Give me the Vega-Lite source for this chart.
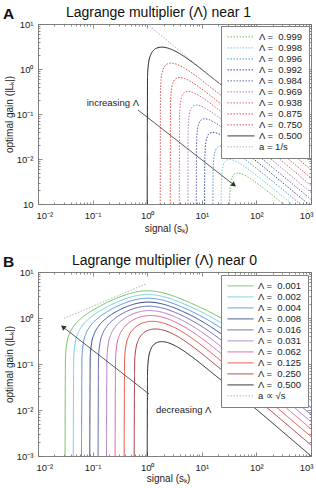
{
  "$schema": "https://vega.github.io/schema/vega-lite/v6.json",
  "background": "white",
  "padding": {"left": 2, "top": 4, "right": 2, "bottom": 2},
  "config": {
    "font": "Liberation Sans",
    "view": {"stroke": "#808080", "strokeWidth": 1},
    "axis": {
      "domain": false, "grid": false, "tickColor": "#707070", "tickWidth": 0.8,
      "labelFont": "Liberation Sans", "labelFontSize": 9.5, "labelColor": "#222222",
      "titleFont": "Liberation Sans", "titleFontSize": 10, "titleFontWeight": "normal", "titleColor": "#222222",
      "labelFlush": false, "labelOverlap": false
    },
    "legend": {
      "title": null, "symbolType": "stroke", "symbolStrokeWidth": 1, "clipHeight": 9.8, "rowPadding": 0,
      "labelFontSize": 9.5, "labelFont": "Liberation Sans", "labelOffset": 4, "padding": 6,
      "strokeColor": "#808080", "fillColor": "#ffffff", "labelColor": "#222222", "labelLimit": 300
    }
  },
  "datasets": {
    "curvesA": [
      {"lab": "Λ = \u00a00.999", "s": 32.16, "g": 0.001}, {"lab": "Λ = \u00a00.999", "s": 32.82, "g": 0.002129}, {"lab": "Λ = \u00a00.999", "s": 33.72, "g": 0.002931}, {"lab": "Λ = \u00a00.999", "s": 35.77, "g": 0.003908}, {"lab": "Λ = \u00a00.999", "s": 38.8, "g": 0.004557}, {"lab": "Λ = \u00a00.999", "s": 45.25, "g": 0.004884}, {"lab": "Λ = \u00a00.999", "s": 53.34, "g": 0.004688}, {"lab": "Λ = \u00a00.999", "s": 71.57, "g": 0.003907}, {"lab": "Λ = \u00a00.999", "s": 106.7, "g": 0.002795}, {"lab": "Λ = \u00a00.999", "s": 184.8, "g": 0.001666}, {"lab": "Λ = \u00a00.999", "s": 1000, "g": 0.0003125},
      {"lab": "Λ = \u00a00.998", "s": 22.61, "g": 0.001}, {"lab": "Λ = \u00a00.998", "s": 22.72, "g": 0.001945}, {"lab": "Λ = \u00a00.998", "s": 23.19, "g": 0.004261}, {"lab": "Λ = \u00a00.998", "s": 23.83, "g": 0.005865}, {"lab": "Λ = \u00a00.998", "s": 25.28, "g": 0.007819}, {"lab": "Λ = \u00a00.998", "s": 27.43, "g": 0.009117}, {"lab": "Λ = \u00a00.998", "s": 31.99, "g": 0.00977}, {"lab": "Λ = \u00a00.998", "s": 37.72, "g": 0.009378}, {"lab": "Λ = \u00a00.998", "s": 50.63, "g": 0.007814}, {"lab": "Λ = \u00a00.998", "s": 75.49, "g": 0.00559}, {"lab": "Λ = \u00a00.998", "s": 130.8, "g": 0.003332}, {"lab": "Λ = \u00a00.998", "s": 1000, "g": 0.0004423},
      {"lab": "Λ = \u00a00.996", "s": 15.97, "g": 0.001}, {"lab": "Λ = \u00a00.996", "s": 16.05, "g": 0.003894}, {"lab": "Λ = \u00a00.996", "s": 16.39, "g": 0.008529}, {"lab": "Λ = \u00a00.996", "s": 16.84, "g": 0.01174}, {"lab": "Λ = \u00a00.996", "s": 17.87, "g": 0.01565}, {"lab": "Λ = \u00a00.996", "s": 19.39, "g": 0.01825}, {"lab": "Λ = \u00a00.996", "s": 22.62, "g": 0.01955}, {"lab": "Λ = \u00a00.996", "s": 26.68, "g": 0.01876}, {"lab": "Λ = \u00a00.996", "s": 35.82, "g": 0.01563}, {"lab": "Λ = \u00a00.996", "s": 53.42, "g": 0.01118}, {"lab": "Λ = \u00a00.996", "s": 92.55, "g": 0.006664}, {"lab": "Λ = \u00a00.996", "s": 1000, "g": 0.0006261},
      {"lab": "Λ = \u00a00.992", "s": 11.27, "g": 0.001}, {"lab": "Λ = \u00a00.992", "s": 11.33, "g": 0.007804}, {"lab": "Λ = \u00a00.992", "s": 11.57, "g": 0.01709}, {"lab": "Λ = \u00a00.992", "s": 11.89, "g": 0.02352}, {"lab": "Λ = \u00a00.992", "s": 12.62, "g": 0.03135}, {"lab": "Λ = \u00a00.992", "s": 13.7, "g": 0.03654}, {"lab": "Λ = \u00a00.992", "s": 15.98, "g": 0.03914}, {"lab": "Λ = \u00a00.992", "s": 18.88, "g": 0.03755}, {"lab": "Λ = \u00a00.992", "s": 25.36, "g": 0.03127}, {"lab": "Λ = \u00a00.992", "s": 37.83, "g": 0.02237}, {"lab": "Λ = \u00a00.992", "s": 65.56, "g": 0.01333}, {"lab": "Λ = \u00a00.992", "s": 1000, "g": 0.0008873},
      {"lab": "Λ = \u00a00.984", "s": 7.937, "g": 0.001}, {"lab": "Λ = \u00a00.984", "s": 7.979, "g": 0.01567}, {"lab": "Λ = \u00a00.984", "s": 8.15, "g": 0.03431}, {"lab": "Λ = \u00a00.984", "s": 8.38, "g": 0.04721}, {"lab": "Λ = \u00a00.984", "s": 8.902, "g": 0.0629}, {"lab": "Λ = \u00a00.984", "s": 9.674, "g": 0.07328}, {"lab": "Λ = \u00a00.984", "s": 11.29, "g": 0.07844}, {"lab": "Λ = \u00a00.984", "s": 13.36, "g": 0.07521}, {"lab": "Λ = \u00a00.984", "s": 17.97, "g": 0.0626}, {"lab": "Λ = \u00a00.984", "s": 26.84, "g": 0.04475}, {"lab": "Λ = \u00a00.984", "s": 46.53, "g": 0.02666}, {"lab": "Λ = \u00a00.984", "s": 1000, "g": 0.00126},
      {"lab": "Λ = \u00a00.969", "s": 5.568, "g": 0.001}, {"lab": "Λ = \u00a00.969", "s": 5.598, "g": 0.03159}, {"lab": "Λ = \u00a00.969", "s": 5.722, "g": 0.06914}, {"lab": "Λ = \u00a00.969", "s": 5.888, "g": 0.0951}, {"lab": "Λ = \u00a00.969", "s": 6.265, "g": 0.1266}, {"lab": "Λ = \u00a00.969", "s": 6.822, "g": 0.1474}, {"lab": "Λ = \u00a00.969", "s": 7.968, "g": 0.1575}, {"lab": "Λ = \u00a00.969", "s": 9.471, "g": 0.1509}, {"lab": "Λ = \u00a00.969", "s": 12.77, "g": 0.1254}, {"lab": "Λ = \u00a00.969", "s": 19.1, "g": 0.08956}, {"lab": "Λ = \u00a00.969", "s": 33.15, "g": 0.05333}, {"lab": "Λ = \u00a00.969", "s": 1000, "g": 0.001796},
      {"lab": "Λ = \u00a00.938", "s": 3.873, "g": 0.001}, {"lab": "Λ = \u00a00.938", "s": 3.895, "g": 0.06421}, {"lab": "Λ = \u00a00.938", "s": 3.987, "g": 0.1405}, {"lab": "Λ = \u00a00.938", "s": 4.11, "g": 0.193}, {"lab": "Λ = \u00a00.938", "s": 4.388, "g": 0.2566}, {"lab": "Λ = \u00a00.938", "s": 4.797, "g": 0.2981}, {"lab": "Λ = \u00a00.938", "s": 5.612, "g": 0.3177}, {"lab": "Λ = \u00a00.938", "s": 6.73, "g": 0.3036}, {"lab": "Λ = \u00a00.938", "s": 9.122, "g": 0.2517}, {"lab": "Λ = \u00a00.938", "s": 13.69, "g": 0.1794}, {"lab": "Λ = \u00a00.938", "s": 23.81, "g": 0.1067}, {"lab": "Λ = \u00a00.938", "s": 1000, "g": 0.002582},
      {"lab": "Λ = \u00a00.875", "s": 2.646, "g": 0.001}, {"lab": "Λ = \u00a00.875", "s": 2.663, "g": 0.1329}, {"lab": "Λ = \u00a00.875", "s": 2.734, "g": 0.2903}, {"lab": "Λ = \u00a00.875", "s": 2.829, "g": 0.3984}, {"lab": "Λ = \u00a00.875", "s": 3.043, "g": 0.5278}, {"lab": "Λ = \u00a00.875", "s": 3.355, "g": 0.6107}, {"lab": "Λ = \u00a00.875", "s": 3.935, "g": 0.6472}, {"lab": "Λ = \u00a00.875", "s": 4.813, "g": 0.6151}, {"lab": "Λ = \u00a00.875", "s": 6.592, "g": 0.507}, {"lab": "Λ = \u00a00.875", "s": 9.966, "g": 0.36}, {"lab": "Λ = \u00a00.875", "s": 17.39, "g": 0.2137}, {"lab": "Λ = \u00a00.875", "s": 1000, "g": 0.00378},
      {"lab": "Λ = \u00a00.750", "s": 1.732, "g": 0.001}, {"lab": "Λ = \u00a00.750", "s": 1.747, "g": 0.2869}, {"lab": "Λ = \u00a00.750", "s": 1.807, "g": 0.6252}, {"lab": "Λ = \u00a00.750", "s": 1.887, "g": 0.8551}, {"lab": "Λ = \u00a00.750", "s": 2.066, "g": 1.125}, {"lab": "Λ = \u00a00.750", "s": 2.324, "g": 1.291}, {"lab": "Λ = \u00a00.750", "s": 2.732, "g": 1.352}, {"lab": "Λ = \u00a00.750", "s": 3.503, "g": 1.268}, {"lab": "Λ = \u00a00.750", "s": 4.906, "g": 1.031}, {"lab": "Λ = \u00a00.750", "s": 7.525, "g": 0.7255}, {"lab": "Λ = \u00a00.750", "s": 13.23, "g": 0.4285}, {"lab": "Λ = \u00a00.750", "s": 1000, "g": 0.005774},
      {"lab": "Λ = \u00a00.500", "s": 1, "g": 0.001}, {"lab": "Λ = \u00a00.500", "s": 1.015, "g": 0.7018}, {"lab": "Λ = \u00a00.500", "s": 1.061, "g": 1.371}, {"lab": "Λ = \u00a00.500", "s": 1.16, "g": 2.065}, {"lab": "Λ = \u00a00.500", "s": 1.303, "g": 2.583}, {"lab": "Λ = \u00a00.500", "s": 1.486, "g": 2.9}, {"lab": "Λ = \u00a00.500", "s": 1.848, "g": 3.063}, {"lab": "Λ = \u00a00.500", "s": 2.352, "g": 2.928}, {"lab": "Λ = \u00a00.500", "s": 3.104, "g": 2.566}, {"lab": "Λ = \u00a00.500", "s": 4.29, "g": 2.056}, {"lab": "Λ = \u00a00.500", "s": 6.788, "g": 1.398}, {"lab": "Λ = \u00a00.500", "s": 14, "g": 0.7053}, {"lab": "Λ = \u00a00.500", "s": 1000, "g": 0.01},
      {"lab": "a = 1/s", "s": 1, "g": 10}, {"lab": "a = 1/s", "s": 30, "g": 0.3333}
    ],
    "curvesB": [
      {"lab": "Λ = \u00a00.001", "s": 0.03127, "g": 0.001}, {"lab": "Λ = \u00a00.001", "s": 0.03189, "g": 0.1414}, {"lab": "Λ = \u00a00.001", "s": 0.03377, "g": 0.2827}, {"lab": "Λ = \u00a00.001", "s": 0.03752, "g": 0.4469}, {"lab": "Λ = \u00a00.001", "s": 0.04535, "g": 0.6701}, {"lab": "Λ = \u00a00.001", "s": 0.06256, "g": 0.9981}, {"lab": "Λ = \u00a00.001", "s": 0.09389, "g": 1.408}, {"lab": "Λ = \u00a00.001", "s": 0.1566, "g": 1.976}, {"lab": "Λ = \u00a00.001", "s": 0.251, "g": 2.566}, {"lab": "Λ = \u00a00.001", "s": 0.4089, "g": 3.206}, {"lab": "Λ = \u00a00.001", "s": 0.6312, "g": 3.686}, {"lab": "Λ = \u00a00.001", "s": 1.016, "g": 3.906}, {"lab": "Λ = \u00a00.001", "s": 1.81, "g": 3.596}, {"lab": "Λ = \u00a00.001", "s": 3.373, "g": 2.862}, {"lab": "Λ = \u00a00.001", "s": 7.155, "g": 1.976}, {"lab": "Λ = \u00a00.001", "s": 16.52, "g": 1.221}, {"lab": "Λ = \u00a00.001", "s": 40.9, "g": 0.654}, {"lab": "Λ = \u00a00.001", "s": 91.07, "g": 0.3331}, {"lab": "Λ = \u00a00.001", "s": 1000, "g": 0.03197},
      {"lab": "Λ = \u00a00.002", "s": 0.04424, "g": 0.001}, {"lab": "Λ = \u00a00.002", "s": 0.04512, "g": 0.1413}, {"lab": "Λ = \u00a00.002", "s": 0.04778, "g": 0.2825}, {"lab": "Λ = \u00a00.002", "s": 0.0531, "g": 0.4466}, {"lab": "Λ = \u00a00.002", "s": 0.06417, "g": 0.6695}, {"lab": "Λ = \u00a00.002", "s": 0.08856, "g": 0.9961}, {"lab": "Λ = \u00a00.002", "s": 0.133, "g": 1.402}, {"lab": "Λ = \u00a00.002", "s": 0.2221, "g": 1.952}, {"lab": "Λ = \u00a00.002", "s": 0.3563, "g": 2.492}, {"lab": "Λ = \u00a00.002", "s": 0.582, "g": 2.994}, {"lab": "Λ = \u00a00.002", "s": 0.7641, "g": 3.178}, {"lab": "Λ = \u00a00.002", "s": 1.023, "g": 3.251}, {"lab": "Λ = \u00a00.002", "s": 1.887, "g": 2.96}, {"lab": "Λ = \u00a00.002", "s": 3.416, "g": 2.362}, {"lab": "Λ = \u00a00.002", "s": 6.532, "g": 1.705}, {"lab": "Λ = \u00a00.002", "s": 13.73, "g": 1.1}, {"lab": "Λ = \u00a00.002", "s": 28.92, "g": 0.6534}, {"lab": "Λ = \u00a00.002", "s": 64.4, "g": 0.3329}, {"lab": "Λ = \u00a00.002", "s": 1000, "g": 0.0226},
      {"lab": "Λ = \u00a00.004", "s": 0.06262, "g": 0.001}, {"lab": "Λ = \u00a00.004", "s": 0.06388, "g": 0.1411}, {"lab": "Λ = \u00a00.004", "s": 0.06764, "g": 0.2822}, {"lab": "Λ = \u00a00.004", "s": 0.07518, "g": 0.446}, {"lab": "Λ = \u00a00.004", "s": 0.09088, "g": 0.6681}, {"lab": "Λ = \u00a00.004", "s": 0.1255, "g": 0.9922}, {"lab": "Λ = \u00a00.004", "s": 0.1886, "g": 1.39}, {"lab": "Λ = \u00a00.004", "s": 0.3156, "g": 1.907}, {"lab": "Λ = \u00a00.004", "s": 0.508, "g": 2.359}, {"lab": "Λ = \u00a00.004", "s": 0.7355, "g": 2.61}, {"lab": "Λ = \u00a00.004", "s": 1.033, "g": 2.694}, {"lab": "Λ = \u00a00.004", "s": 1.866, "g": 2.462}, {"lab": "Λ = \u00a00.004", "s": 3.578, "g": 1.907}, {"lab": "Λ = \u00a00.004", "s": 6.946, "g": 1.341}, {"lab": "Λ = \u00a00.004", "s": 13.12, "g": 0.8987}, {"lab": "Λ = \u00a00.004", "s": 28.62, "g": 0.4985}, {"lab": "Λ = \u00a00.004", "s": 56.24, "g": 0.2737}, {"lab": "Λ = \u00a00.004", "s": 1000, "g": 0.01597},
      {"lab": "Λ = \u00a00.008", "s": 0.08874, "g": 0.001}, {"lab": "Λ = \u00a00.008", "s": 0.09052, "g": 0.1409}, {"lab": "Λ = \u00a00.008", "s": 0.09586, "g": 0.2816}, {"lab": "Λ = \u00a00.008", "s": 0.1066, "g": 0.4447}, {"lab": "Λ = \u00a00.008", "s": 0.1289, "g": 0.6653}, {"lab": "Λ = \u00a00.008", "s": 0.1782, "g": 0.9845}, {"lab": "Λ = \u00a00.008", "s": 0.2683, "g": 1.366}, {"lab": "Λ = \u00a00.008", "s": 0.4508, "g": 1.823}, {"lab": "Λ = \u00a00.008", "s": 0.7303, "g": 2.137}, {"lab": "Λ = \u00a00.008", "s": 1.047, "g": 2.218}, {"lab": "Λ = \u00a00.008", "s": 1.841, "g": 2.037}, {"lab": "Λ = \u00a00.008", "s": 3.419, "g": 1.595}, {"lab": "Λ = \u00a00.008", "s": 6.239, "g": 1.149}, {"lab": "Λ = \u00a00.008", "s": 11.38, "g": 0.775}, {"lab": "Λ = \u00a00.008", "s": 22.78, "g": 0.45}, {"lab": "Λ = \u00a00.008", "s": 48.07, "g": 0.2284}, {"lab": "Λ = \u00a00.008", "s": 1000, "g": 0.01127},
      {"lab": "Λ = \u00a00.016", "s": 0.126, "g": 0.001}, {"lab": "Λ = \u00a00.016", "s": 0.1285, "g": 0.1403}, {"lab": "Λ = \u00a00.016", "s": 0.1362, "g": 0.2803}, {"lab": "Λ = \u00a00.016", "s": 0.1514, "g": 0.4422}, {"lab": "Λ = \u00a00.016", "s": 0.1833, "g": 0.6598}, {"lab": "Λ = \u00a00.016", "s": 0.254, "g": 0.9692}, {"lab": "Λ = \u00a00.016", "s": 0.3841, "g": 1.32}, {"lab": "Λ = \u00a00.016", "s": 0.6509, "g": 1.676}, {"lab": "Λ = \u00a00.016", "s": 1.069, "g": 1.807}, {"lab": "Λ = \u00a00.016", "s": 1.89, "g": 1.649}, {"lab": "Λ = \u00a00.016", "s": 3.473, "g": 1.28}, {"lab": "Λ = \u00a00.016", "s": 6.004, "g": 0.9334}, {"lab": "Λ = \u00a00.016", "s": 10.89, "g": 0.6142}, {"lab": "Λ = \u00a00.016", "s": 20.32, "g": 0.3655}, {"lab": "Λ = \u00a00.016", "s": 44.8, "g": 0.1744}, {"lab": "Λ = \u00a00.016", "s": 1000, "g": 0.007937},
      {"lab": "Λ = \u00a00.031", "s": 0.1796, "g": 0.001}, {"lab": "Λ = \u00a00.031", "s": 0.1833, "g": 0.1391}, {"lab": "Λ = \u00a00.031", "s": 0.1942, "g": 0.2777}, {"lab": "Λ = \u00a00.031", "s": 0.2162, "g": 0.4371}, {"lab": "Λ = \u00a00.031", "s": 0.2623, "g": 0.6489}, {"lab": "Λ = \u00a00.031", "s": 0.3651, "g": 0.9393}, {"lab": "Λ = \u00a00.031", "s": 0.5571, "g": 1.235}, {"lab": "Λ = \u00a00.031", "s": 0.7966, "g": 1.399}, {"lab": "Λ = \u00a00.031", "s": 1.102, "g": 1.45}, {"lab": "Λ = \u00a00.031", "s": 2.028, "g": 1.297}, {"lab": "Λ = \u00a00.031", "s": 3.432, "g": 1.024}, {"lab": "Λ = \u00a00.031", "s": 5.69, "g": 0.7514}, {"lab": "Λ = \u00a00.031", "s": 9.407, "g": 0.5174}, {"lab": "Λ = \u00a00.031", "s": 18.4, "g": 0.2894}, {"lab": "Λ = \u00a00.031", "s": 39.2, "g": 0.1405}, {"lab": "Λ = \u00a00.031", "s": 1000, "g": 0.005568},
      {"lab": "Λ = \u00a00.062", "s": 0.2582, "g": 0.001}, {"lab": "Λ = \u00a00.062", "s": 0.2635, "g": 0.1368}, {"lab": "Λ = \u00a00.062", "s": 0.2796, "g": 0.2724}, {"lab": "Λ = \u00a00.062", "s": 0.3119, "g": 0.4269}, {"lab": "Λ = \u00a00.062", "s": 0.3801, "g": 0.6271}, {"lab": "Λ = \u00a00.062", "s": 0.5345, "g": 0.8819}, {"lab": "Λ = \u00a00.062", "s": 0.7707, "g": 1.063}, {"lab": "Λ = \u00a00.062", "s": 1.155, "g": 1.134}, {"lab": "Λ = \u00a00.062", "s": 2.066, "g": 1.013}, {"lab": "Λ = \u00a00.062", "s": 3.28, "g": 0.8146}, {"lab": "Λ = \u00a00.062", "s": 5.112, "g": 0.6131}, {"lab": "Λ = \u00a00.062", "s": 8.4, "g": 0.4169}, {"lab": "Λ = \u00a00.062", "s": 15.35, "g": 0.2436}, {"lab": "Λ = \u00a00.062", "s": 32.17, "g": 0.1194}, {"lab": "Λ = \u00a00.062", "s": 1000, "g": 0.003873},
      {"lab": "Λ = \u00a00.125", "s": 0.378, "g": 0.001}, {"lab": "Λ = \u00a00.125", "s": 0.3861, "g": 0.1319}, {"lab": "Λ = \u00a00.125", "s": 0.4106, "g": 0.2617}, {"lab": "Λ = \u00a00.125", "s": 0.4602, "g": 0.4063}, {"lab": "Λ = \u00a00.125", "s": 0.5666, "g": 0.5837}, {"lab": "Λ = \u00a00.125", "s": 0.7229, "g": 0.7249}, {"lab": "Λ = \u00a00.125", "s": 0.9634, "g": 0.8211}, {"lab": "Λ = \u00a00.125", "s": 1.244, "g": 0.8473}, {"lab": "Λ = \u00a00.125", "s": 2, "g": 0.7746}, {"lab": "Λ = \u00a00.125", "s": 2.929, "g": 0.6493}, {"lab": "Λ = \u00a00.125", "s": 4.243, "g": 0.513}, {"lab": "Λ = \u00a00.125", "s": 6.825, "g": 0.3539}, {"lab": "Λ = \u00a00.125", "s": 12.02, "g": 0.2131}, {"lab": "Λ = \u00a00.125", "s": 28, "g": 0.09389}, {"lab": "Λ = \u00a00.125", "s": 1000, "g": 0.002646},
      {"lab": "Λ = \u00a00.250", "s": 0.5774, "g": 0.001}, {"lab": "Λ = \u00a00.250", "s": 0.5909, "g": 0.1218}, {"lab": "Λ = \u00a00.250", "s": 0.6182, "g": 0.2084}, {"lab": "Λ = \u00a00.250", "s": 0.6812, "g": 0.3201}, {"lab": "Λ = \u00a00.250", "s": 0.7912, "g": 0.4296}, {"lab": "Λ = \u00a00.250", "s": 0.9487, "g": 0.513}, {"lab": "Λ = \u00a00.250", "s": 1.167, "g": 0.5636}, {"lab": "Λ = \u00a00.250", "s": 1.414, "g": 0.5774}, {"lab": "Λ = \u00a00.250", "s": 1.897, "g": 0.5517}, {"lab": "Λ = \u00a00.250", "s": 2.556, "g": 0.4888}, {"lab": "Λ = \u00a00.250", "s": 3.578, "g": 0.3993}, {"lab": "Λ = \u00a00.250", "s": 5.692, "g": 0.279}, {"lab": "Λ = \u00a00.250", "s": 9.6, "g": 0.1746}, {"lab": "Λ = \u00a00.250", "s": 19.8, "g": 0.08678}, {"lab": "Λ = \u00a00.250", "s": 1000, "g": 0.001732},
      {"lab": "Λ = \u00a00.500", "s": 1, "g": 0.001}, {"lab": "Λ = \u00a00.500", "s": 1.015, "g": 0.07018}, {"lab": "Λ = \u00a00.500", "s": 1.061, "g": 0.1371}, {"lab": "Λ = \u00a00.500", "s": 1.16, "g": 0.2065}, {"lab": "Λ = \u00a00.500", "s": 1.303, "g": 0.2583}, {"lab": "Λ = \u00a00.500", "s": 1.486, "g": 0.29}, {"lab": "Λ = \u00a00.500", "s": 1.848, "g": 0.3063}, {"lab": "Λ = \u00a00.500", "s": 2.352, "g": 0.2928}, {"lab": "Λ = \u00a00.500", "s": 3.104, "g": 0.2566}, {"lab": "Λ = \u00a00.500", "s": 4.29, "g": 0.2056}, {"lab": "Λ = \u00a00.500", "s": 6.788, "g": 0.1398}, {"lab": "Λ = \u00a00.500", "s": 14, "g": 0.07053}, {"lab": "Λ = \u00a00.500", "s": 1000, "g": 0.001},
      {"lab": "a ∝ √s", "s": 0.03, "g": 0.9798}, {"lab": "a ∝ √s", "s": 0.95, "g": 5.514}
    ],
    "arrowA": [{"s": 0.68, "g": 0.1227, "s2": 38.9, "g2": 0.00264, "txt": "increasing Λ", "ts": 0.7089, "tg": 0.1754}],
    "arrowB": [{"s": 1.079, "g": 0.02228, "s2": 0.0287, "g2": 0.637, "txt": "decreasing Λ", "ts": 1.449, "tg": 0.01}]
  },
  "bounds": "flush",
  "spacing": 68,
  "resolve": {"scale": {"color": "independent", "strokeDash": "independent"}, "legend": {"color": "independent", "strokeDash": "independent"}},
  "vconcat": [
    {
      "width": 273,
      "height": 180,
      "title": {"text": "A", "anchor": "start", "frame": "bounds", "fontSize": 15.5, "fontWeight": "bold", "color": "#111111", "offset": 0, "dy": 17, "dx": -1},
      "resolve": {"scale": {"x": "independent", "y": "independent"}},
      "layer": [
        {
          "data": {"name": "curvesA"},
          "mark": {"type": "line", "clip": true, "strokeWidth": 1, "interpolate": "monotone"},
          "encoding": {
            "x": {"field": "s", "type": "quantitative", "scale": {"type": "log", "domain": [0.01, 1000], "nice": false},
              "axis": {"orient": "bottom", "values": [0.01, 0.1, 1, 10, 100, 1000], "tickSize": -4, "labelPadding": 10, "labelFlush": true, "labelFlushOffset": 2,
                "labelExpr": "datum.value < 0.05 ? '10⁻²' : datum.value < 0.5 ? '10⁻¹' : datum.value < 5 ? '10⁰' : datum.value < 50 ? '10¹' : datum.value < 500 ? '10²' : '10³'",
                "title": "signal (sₖ)", "titleX": 128, "titleY": 24, "titleBaseline": "middle"}},
            "y": {"field": "g", "type": "quantitative", "scale": {"type": "log", "domain": [0.001, 10], "nice": false},
              "axis": {"orient": "left", "values": [0.001, 0.01, 0.1, 1, 10], "tickSize": -4, "labelPadding": 9,
                "labelExpr": "datum.value < 0.005 ? '10' : datum.value < 0.05 ? '10⁻²' : datum.value < 0.5 ? '10⁻¹' : datum.value < 5 ? '10⁰' : '10¹'",
                "title": "optimal gain (|Lₖ|)", "titleX": -29, "titleY": 90, "titleBaseline": "middle"}},
            "color": {"field": "lab", "type": "nominal",
              "scale": {"domain": ["Λ = \u00a00.999", "Λ = \u00a00.998", "Λ = \u00a00.996", "Λ = \u00a00.992", "Λ = \u00a00.984", "Λ = \u00a00.969", "Λ = \u00a00.938", "Λ = \u00a00.875", "Λ = \u00a00.750", "Λ = \u00a00.500", "a = 1/s"],
                "range": ["#74bf5e", "#6fcfdc", "#5793d3", "#2f4a8c", "#6163ad", "#b07ac4", "#e0609a", "#ec4b3c", "#d2555a", "#222222", "#b5b5b5"]},
              "legend": {"orient": "top-right", "offset": 2, "symbolSize": 729}},
            "strokeDash": {"field": "lab", "type": "nominal",
              "scale": {"domain": ["Λ = \u00a00.999", "Λ = \u00a00.998", "Λ = \u00a00.996", "Λ = \u00a00.992", "Λ = \u00a00.984", "Λ = \u00a00.969", "Λ = \u00a00.938", "Λ = \u00a00.875", "Λ = \u00a00.750", "Λ = \u00a00.500", "a = 1/s"],
                "range": [[1.5, 1.5], [1.5, 1.5], [1.5, 1.5], [1.5, 1.5], [1.5, 1.5], [1.5, 1.5], [1.5, 1.5], [1.5, 1.5], [1.5, 1.5], [1, 0], [1.5, 1.5]]},
              "legend": {"orient": "top-right", "offset": 2, "symbolSize": 729}}
          }
        },
        {
          "data": {"name": "arrowA"},
          "mark": {"type": "rule", "color": "#333333", "strokeWidth": 0.8},
          "encoding": {
            "x": {"field": "s", "type": "quantitative", "scale": {"type": "log", "domain": [0.01, 1000], "nice": false},
              "axis": {"orient": "bottom", "values": [0.02, 0.03, 0.04, 0.05, 0.06, 0.07, 0.08, 0.09, 0.2, 0.3, 0.4, 0.5, 0.6, 0.7, 0.8, 0.9, 2, 3, 4, 5, 6, 7, 8, 9, 20, 30, 40, 50, 60, 70, 80, 90, 200, 300, 400, 500, 600, 700, 800, 900], "tickSize": -2, "labels": false, "title": null}},
            "y": {"field": "g", "type": "quantitative", "scale": {"type": "log", "domain": [0.001, 10], "nice": false},
              "axis": {"orient": "left", "values": [0.002, 0.003, 0.004, 0.005, 0.006, 0.007, 0.008, 0.009, 0.02, 0.03, 0.04, 0.05, 0.06, 0.07, 0.08, 0.09, 0.2, 0.3, 0.4, 0.5, 0.6, 0.7, 0.8, 0.9, 2, 3, 4, 5, 6, 7, 8, 9], "tickSize": -2, "labels": false, "title": null}},
            "x2": {"field": "s2"},
            "y2": {"field": "g2"}
          }
        },
        {
          "data": {"name": "arrowA"},
          "mark": {"type": "point", "shape": "triangle-right", "filled": true, "color": "#333333", "size": 32, "angle": 38, "opacity": 1},
          "encoding": {
            "x": {"field": "s2", "type": "quantitative", "scale": {"type": "log", "domain": [0.01, 1000], "nice": false},
              "axis": {"orient": "top", "values": [0.01, 0.1, 1, 10, 100, 1000], "tickSize": -4, "labels": false,
                "title": "Lagrange multiplier (Λ) near 1", "titleFontSize": 14, "titleColor": "#111111", "titleX": 120, "titleY": -8, "titleBaseline": "alphabetic"}},
            "y": {"field": "g2", "type": "quantitative", "scale": {"type": "log", "domain": [0.001, 10], "nice": false},
              "axis": {"orient": "right", "values": [0.001, 0.01, 0.1, 1, 10], "tickSize": -4, "labels": false, "title": null}}
          }
        },
        {
          "data": {"name": "arrowA"},
          "mark": {"type": "text", "align": "right", "baseline": "middle", "fontSize": 9.5, "color": "#222222"},
          "encoding": {
            "x": {"field": "ts", "type": "quantitative", "scale": {"type": "log", "domain": [0.01, 1000], "nice": false},
              "axis": {"orient": "top", "values": [0.02, 0.03, 0.04, 0.05, 0.06, 0.07, 0.08, 0.09, 0.2, 0.3, 0.4, 0.5, 0.6, 0.7, 0.8, 0.9, 2, 3, 4, 5, 6, 7, 8, 9, 20, 30, 40, 50, 60, 70, 80, 90, 200, 300, 400, 500, 600, 700, 800, 900], "tickSize": -2, "labels": false, "title": null}},
            "y": {"field": "tg", "type": "quantitative", "scale": {"type": "log", "domain": [0.001, 10], "nice": false},
              "axis": {"orient": "right", "values": [0.002, 0.003, 0.004, 0.005, 0.006, 0.007, 0.008, 0.009, 0.02, 0.03, 0.04, 0.05, 0.06, 0.07, 0.08, 0.09, 0.2, 0.3, 0.4, 0.5, 0.6, 0.7, 0.8, 0.9, 2, 3, 4, 5, 6, 7, 8, 9], "tickSize": -2, "labels": false, "title": null}},
            "text": {"field": "txt"}
          }
        }
      ]
    },
    {
      "width": 273,
      "height": 184,
      "title": {"text": "B", "anchor": "start", "frame": "bounds", "fontSize": 15.5, "fontWeight": "bold", "color": "#111111", "offset": 0, "dy": 17, "dx": -1},
      "resolve": {"scale": {"x": "independent", "y": "independent"}},
      "layer": [
        {
          "data": {"name": "curvesB"},
          "mark": {"type": "line", "clip": true, "strokeWidth": 1, "interpolate": "monotone"},
          "encoding": {
            "x": {"field": "s", "type": "quantitative", "scale": {"type": "log", "domain": [0.01, 1000], "nice": false},
              "axis": {"orient": "bottom", "values": [0.01, 0.1, 1, 10, 100, 1000], "tickSize": -4, "labelPadding": 10, "labelFlush": true, "labelFlushOffset": 2,
                "labelExpr": "datum.value < 0.05 ? '10⁻²' : datum.value < 0.5 ? '10⁻¹' : datum.value < 5 ? '10⁰' : datum.value < 50 ? '10¹' : datum.value < 500 ? '10²' : '10³'",
                "title": "signal (sₖ)", "titleX": 130, "titleY": 22, "titleBaseline": "middle"}},
            "y": {"field": "g", "type": "quantitative", "scale": {"type": "log", "domain": [0.001, 10], "nice": false},
              "axis": {"orient": "left", "values": [0.001, 0.01, 0.1, 1, 10], "tickSize": -4, "labelPadding": 9,
                "labelExpr": "datum.value < 0.005 ? '10⁻³' : datum.value < 0.05 ? '10⁻²' : datum.value < 0.5 ? '10⁻¹' : datum.value < 5 ? '10⁰' : '10¹'",
                "title": "optimal gain (|Lₖ|)", "titleX": -29, "titleY": 92, "titleBaseline": "middle"}},
            "color": {"field": "lab", "type": "nominal",
              "scale": {"domain": ["Λ = \u00a00.001", "Λ = \u00a00.002", "Λ = \u00a00.004", "Λ = \u00a00.008", "Λ = \u00a00.016", "Λ = \u00a00.031", "Λ = \u00a00.062", "Λ = \u00a00.125", "Λ = \u00a00.250", "Λ = \u00a00.500", "a ∝ √s"],
                "range": ["#74bf5e", "#6fcfdc", "#5793d3", "#2f4a8c", "#6163ad", "#b07ac4", "#e0609a", "#ec4b3c", "#a8383a", "#222222", "#b5b5b5"]},
              "legend": {"orient": "top-right", "offset": 3, "symbolSize": 676}},
            "strokeDash": {"field": "lab", "type": "nominal",
              "scale": {"domain": ["Λ = \u00a00.001", "Λ = \u00a00.002", "Λ = \u00a00.004", "Λ = \u00a00.008", "Λ = \u00a00.016", "Λ = \u00a00.031", "Λ = \u00a00.062", "Λ = \u00a00.125", "Λ = \u00a00.250", "Λ = \u00a00.500", "a ∝ √s"],
                "range": [[1, 0], [1, 0], [1, 0], [1, 0], [1, 0], [1, 0], [1, 0], [1, 0], [1, 0], [1, 0], [1.5, 1.5]]},
              "legend": {"orient": "top-right", "offset": 3, "symbolSize": 676}}
          }
        },
        {
          "data": {"name": "arrowB"},
          "mark": {"type": "rule", "color": "#333333", "strokeWidth": 0.8},
          "encoding": {
            "x": {"field": "s", "type": "quantitative", "scale": {"type": "log", "domain": [0.01, 1000], "nice": false},
              "axis": {"orient": "bottom", "values": [0.02, 0.03, 0.04, 0.05, 0.06, 0.07, 0.08, 0.09, 0.2, 0.3, 0.4, 0.5, 0.6, 0.7, 0.8, 0.9, 2, 3, 4, 5, 6, 7, 8, 9, 20, 30, 40, 50, 60, 70, 80, 90, 200, 300, 400, 500, 600, 700, 800, 900], "tickSize": -2, "labels": false, "title": null}},
            "y": {"field": "g", "type": "quantitative", "scale": {"type": "log", "domain": [0.001, 10], "nice": false},
              "axis": {"orient": "left", "values": [0.002, 0.003, 0.004, 0.005, 0.006, 0.007, 0.008, 0.009, 0.02, 0.03, 0.04, 0.05, 0.06, 0.07, 0.08, 0.09, 0.2, 0.3, 0.4, 0.5, 0.6, 0.7, 0.8, 0.9, 2, 3, 4, 5, 6, 7, 8, 9], "tickSize": -2, "labels": false, "title": null}},
            "x2": {"field": "s2"},
            "y2": {"field": "g2"}
          }
        },
        {
          "data": {"name": "arrowB"},
          "mark": {"type": "point", "shape": "triangle-right", "filled": true, "color": "#333333", "size": 32, "angle": 218, "opacity": 1},
          "encoding": {
            "x": {"field": "s2", "type": "quantitative", "scale": {"type": "log", "domain": [0.01, 1000], "nice": false},
              "axis": {"orient": "top", "values": [0.01, 0.1, 1, 10, 100, 1000], "tickSize": -4, "labels": false,
                "title": "Lagrange multiplier (Λ) near 0", "titleFontSize": 14, "titleColor": "#111111", "titleX": 126, "titleY": -8, "titleBaseline": "alphabetic"}},
            "y": {"field": "g2", "type": "quantitative", "scale": {"type": "log", "domain": [0.001, 10], "nice": false},
              "axis": {"orient": "right", "values": [0.001, 0.01, 0.1, 1, 10], "tickSize": -4, "labels": false, "title": null}}
          }
        },
        {
          "data": {"name": "arrowB"},
          "mark": {"type": "text", "align": "left", "baseline": "middle", "fontSize": 9.5, "color": "#222222"},
          "encoding": {
            "x": {"field": "ts", "type": "quantitative", "scale": {"type": "log", "domain": [0.01, 1000], "nice": false},
              "axis": {"orient": "top", "values": [0.02, 0.03, 0.04, 0.05, 0.06, 0.07, 0.08, 0.09, 0.2, 0.3, 0.4, 0.5, 0.6, 0.7, 0.8, 0.9, 2, 3, 4, 5, 6, 7, 8, 9, 20, 30, 40, 50, 60, 70, 80, 90, 200, 300, 400, 500, 600, 700, 800, 900], "tickSize": -2, "labels": false, "title": null}},
            "y": {"field": "tg", "type": "quantitative", "scale": {"type": "log", "domain": [0.001, 10], "nice": false},
              "axis": {"orient": "right", "values": [0.002, 0.003, 0.004, 0.005, 0.006, 0.007, 0.008, 0.009, 0.02, 0.03, 0.04, 0.05, 0.06, 0.07, 0.08, 0.09, 0.2, 0.3, 0.4, 0.5, 0.6, 0.7, 0.8, 0.9, 2, 3, 4, 5, 6, 7, 8, 9], "tickSize": -2, "labels": false, "title": null}},
            "text": {"field": "txt"}
          }
        }
      ]
    }
  ]
}
